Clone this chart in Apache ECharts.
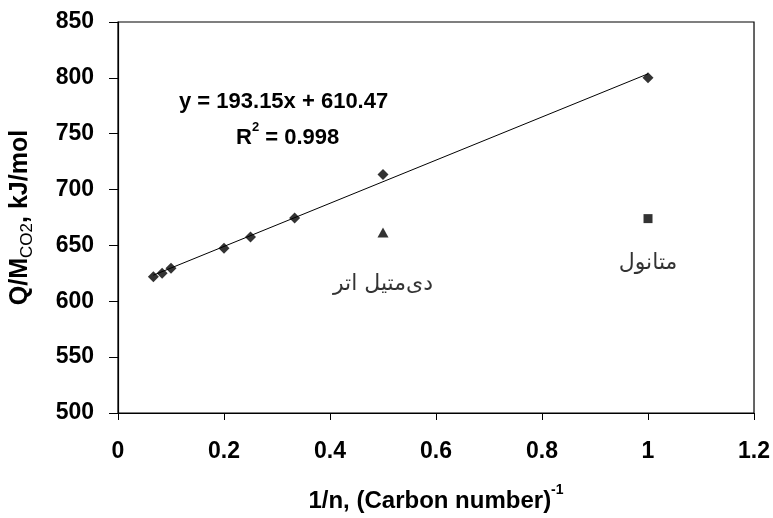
<!DOCTYPE html>
<html>
<head>
<meta charset="utf-8">
<script src="https://cdn.jsdelivr.net/npm/echarts@6/dist/echarts.min.js"></script>
<style>html,body{margin:0;padding:0;background:#fff;}#c{width:773px;height:518px;}</style>
</head>
<body>
<div id="c"></div>
<script>
// Data
const xCarbon = [0.0667, 0.0833, 0.1, 0.2, 0.25, 0.3333, 0.5, 1];
const yCarbon = [622, 625, 629.5, 647.5, 657.5, 674.5, 713.5, 800];
const xEther = [0.5];
const yEther = [661.5];
const xMethanol = [1];
const yMethanol = [674];
const etherLabel = 'دی‌متیل اتر';
const methanolLabel = 'متانول';
const trendSlope = 193.15;
const trendIntercept = 610.47;
const trendX = [0.0667, 1];
const equationText = 'y = 193.15x + 610.47';
const r2Text = '0.998';
const xTicks = [0, 0.2, 0.4, 0.6, 0.8, 1, 1.2];
const yTicks = [500, 550, 600, 650, 700, 750, 800, 850];

const FONT = '"Liberation Sans", Arial, sans-serif';
const chart = echarts.init(document.getElementById('c'), null, {renderer: 'canvas'});

const carbonData = xCarbon.map((x, i) => [x, yCarbon[i]]);
const etherData = xEther.map((x, i) => [x, yEther[i]]);
const methanolData = xMethanol.map((x, i) => [x, yMethanol[i]]);
const trendData = trendX.map(x => [x, trendSlope * x + trendIntercept]);

const option = {
  animation: false,
  backgroundColor: '#fff',
  grid: {left: 117, right: 17, top: 22, bottom: 105, show: true, borderColor: '#000', borderWidth: 1.2, containLabel: false},
  xAxis: {
    type: 'value', min: 0, max: 1.2, interval: 0.2,
    name: '{a|1/n, (Carbon number)}{s|-1}',
    nameLocation: 'middle', nameGap: 70,
    nameTextStyle: {
      rich: {
        a: {fontFamily: FONT, fontWeight: 'bold', fontSize: 24, color: '#000', lineHeight: 30, verticalAlign: 'bottom'},
        s: {fontFamily: FONT, fontWeight: 'bold', fontSize: 14, color: '#000', lineHeight: 30, verticalAlign: 'top'}
      }
    },
    axisLine: {show: true, lineStyle: {color: '#000', width: 1.2}},
    axisTick: {show: true, inside: false, length: 7, lineStyle: {color: '#000', width: 1}},
    splitLine: {show: false},
    axisLabel: {fontFamily: FONT, fontWeight: 'bold', fontSize: 23, color: '#000', margin: 27,
      formatter: v => String(parseFloat(v.toFixed(2)))}
  },
  yAxis: {
    type: 'value', min: 500, max: 850, interval: 50,
    name: '{a|Q/M}{s|CO2}{a|, kJ/mol}',
    nameLocation: 'middle', nameGap: 82, nameRotate: 90,
    nameTextStyle: {
      rich: {
        a: {fontFamily: FONT, fontWeight: 'bold', fontSize: 25, color: '#000', lineHeight: 28, verticalAlign: 'top'},
        s: {fontFamily: FONT, fontWeight: 'normal', fontSize: 17, color: '#000', lineHeight: 28, verticalAlign: 'bottom'}
      }
    },
    axisLine: {show: true, lineStyle: {color: '#000', width: 1.2}},
    axisTick: {show: true, inside: false, length: 9, lineStyle: {color: '#000', width: 1}},
    splitLine: {show: false},
    axisLabel: {fontFamily: FONT, fontWeight: 'bold', fontSize: 23, color: '#000', margin: 24}
  },
  graphic: [
    {type: 'text', left: 179, top: 91, style: {text: equationText, font: 'bold 22px ' + FONT, fill: '#000'}},
    {type: 'text', left: 236, top: 121, style: {
      text: '{a|R}{s|2}{a| = ' + r2Text + '}',
      rich: {
        a: {font: 'bold 22px ' + FONT, fill: '#000', lineHeight: 28, verticalAlign: 'bottom'},
        s: {font: 'bold 13px ' + FONT, fill: '#000', lineHeight: 28, verticalAlign: 'top'}
      }
    }}
  ],
  series: [
    {type: 'line', data: trendData, symbol: 'none', lineStyle: {color: '#000', width: 1}, silent: true, z: 1},
    {type: 'scatter', data: carbonData, symbol: 'diamond', symbolSize: [11, 11], itemStyle: {color: '#000'}, z: 3},
    {type: 'scatter', data: etherData, symbol: 'triangle', symbolSize: [11, 10], itemStyle: {color: '#000'}, z: 3,
      label: {show: true, position: 'bottom', distance: 36, formatter: () => etherLabel,
        fontFamily: '"DejaVu Sans", "Noto Sans", sans-serif', fontSize: 22, color: '#000'}},
    {type: 'scatter', data: methanolData, symbol: 'rect', symbolSize: [9, 9], itemStyle: {color: '#000'}, z: 3,
      label: {show: true, position: 'bottom', distance: 29, formatter: () => methanolLabel,
        fontFamily: '"DejaVu Sans", "Noto Sans", sans-serif', fontSize: 22, color: '#000'}}
  ]
};
chart.setOption(option);
</script>
</body>
</html>
